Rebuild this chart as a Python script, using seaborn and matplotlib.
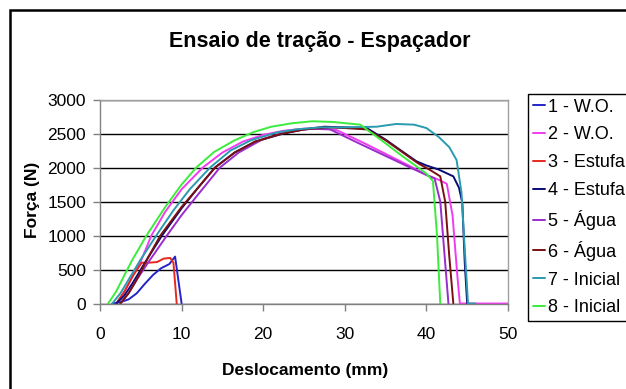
import matplotlib
matplotlib.use("Agg")
import matplotlib.pyplot as plt
from matplotlib.patches import Rectangle
import seaborn as sns
import pandas as pd

# curvas força x deslocamento
labels = ['1 - W.O.', '2 - W.O.', '3 - Estufa', '4 - Estufa',
          '5 - Água', '6 - Água', '7 - Inicial', '8 - Inicial']
colors = ['#2424c8', '#f03cf0', '#e8281e', '#0a0a78',
          '#9a2ccc', '#7a1010', '#2a9aae', '#3cec3c']

x1 = [1.5, 2.5, 3.5, 4.5, 5.5, 6.5, 7.5, 8.5, 9.2, 10.0]
y1 = [0, 20, 60, 150, 290, 420, 520, 580, 690, 0]

x2 = [2.0, 3.0, 4.0, 5.0, 6.3, 8.0, 10.0, 12.6, 15.0, 17.5, 20.0, 22.5, 25.0, 27.0,
      29.0, 32.0, 35.0, 38.0, 40.2, 41.5, 42.5, 43.2, 43.8, 44.1, 50.0]
y2 = [0, 170, 400, 620, 1000, 1350, 1680, 2000, 2220, 2380, 2480, 2540, 2570, 2580,
      2550, 2380, 2200, 2020, 1880, 1820, 1760, 1300, 400, 0, 0]

x3 = [2.0, 3.0, 4.0, 5.1, 6.0, 7.0, 7.8, 8.6, 9.0, 9.4]
y3 = [0, 180, 400, 600, 600, 610, 660, 670, 600, 0]

x4 = [2.0, 3.0, 4.0, 5.5, 7.6, 10.0, 12.0, 14.1, 16.5, 19.0, 22.5, 25.0, 27.5, 30.0,
      32.7, 35.0, 37.0, 38.8, 40.0, 41.5, 43.3, 44.0, 44.4, 44.7, 45.0]
y4 = [0, 120, 300, 600, 1000, 1400, 1700, 2000, 2220, 2380, 2500, 2560, 2600, 2590,
      2580, 2410, 2240, 2090, 2030, 1970, 1870, 1700, 1480, 600, 0]

x5 = [2.5, 3.5, 4.5, 6.0, 8.2, 10.0, 12.0, 14.7, 17.0, 20.0, 23.0, 26.0, 28.2,
      32.0, 35.0, 38.0, 40.0, 41.0, 41.7, 42.3, 42.7]
y5 = [0, 150, 350, 620, 1000, 1300, 1600, 2000, 2220, 2420, 2530, 2570, 2560,
      2340, 2170, 2000, 1890, 1840, 1500, 600, 0]

x6 = [2.5, 3.5, 4.5, 6.0, 7.4, 10.0, 12.0, 14.1, 16.5, 19.0, 22.0, 25.0, 28.0,
      30.0, 32.7, 35.0, 37.0, 39.0, 40.5, 41.7, 42.3, 42.8, 43.3]
y6 = [0, 150, 350, 700, 1000, 1420, 1700, 2000, 2220, 2380, 2490, 2560, 2590,
      2580, 2560, 2400, 2230, 2060, 1960, 1870, 1500, 700, 0]

x7 = [1.5, 2.5, 3.5, 5.0, 6.9, 9.0, 11.0, 13.5, 16.0, 18.5, 21.5, 24.0, 27.0,
      30.0, 33.9, 36.3, 38.5, 40.0, 41.5, 42.8, 43.7, 44.3, 44.7, 45.1, 46.0]
y7 = [0, 150, 350, 650, 1000, 1370, 1680, 2000, 2250, 2400, 2510, 2560, 2590,
      2590, 2600, 2640, 2630, 2580, 2450, 2300, 2110, 1630, 800, 0, 0]

x8 = [1.0, 2.0, 3.0, 4.0, 5.7, 8.0, 10.0, 11.8, 14.0, 16.5, 18.8, 21.0, 23.5,
      26.0, 28.5, 31.9, 34.5, 36.8, 40.0, 40.8, 41.3, 41.7]
y8 = [0, 180, 420, 650, 1000, 1420, 1750, 2000, 2230, 2400, 2520, 2600, 2650,
      2680, 2670, 2630, 2400, 2190, 1910, 1800, 1000, 0]

xs = [x1, x2, x3, x4, x5, x6, x7, x8]
ys = [y1, y2, y3, y4, y5, y6, y7, y8]

frames = []
for lab, x, y in zip(labels, xs, ys):
    frames.append(pd.DataFrame({'Deslocamento': x, 'Forca': y, 'Serie': lab}))
df = pd.concat(frames, ignore_index=True)

sns.set_theme(style='white')
plt.rcParams['font.family'] = ['Liberation Sans', 'DejaVu Sans']
plt.rcParams['text.color'] = 'black'
plt.rcParams['axes.labelcolor'] = 'black'

fig = plt.figure(figsize=(6.26, 3.89), dpi=100)
ax = fig.add_axes([100 / 626, 1 - 303.5 / 389, 408 / 626, 204 / 389])

sns.lineplot(data=df, x='Deslocamento', y='Forca', hue='Serie', hue_order=labels,
             palette=dict(zip(labels, colors)), sort=False, estimator=None,
             units='Serie', linewidth=1.4, ax=ax, legend=False)

ax.set_xlim(0, 50)
ax.set_ylim(0, 3000)
ax.set_xticks(range(0, 51, 10))
ax.set_yticks(range(0, 3001, 500))
ax.grid(axis='y', color='black', linewidth=1.0)
ax.set_axisbelow(True)
for s in ['top', 'right']:
    ax.spines[s].set_color('#a0a0a0')
for s in ['left', 'bottom']:
    ax.spines[s].set_color('#808080')
for s in ax.spines.values():
    s.set_linewidth(1.0)
ax.tick_params(axis='both', which='major', direction='out', length=5, width=1,
               color='#808080', labelsize=12.5, labelcolor='black')
ax.tick_params(axis='x', pad=12, bottom=True)
ax.tick_params(axis='y', pad=5, left=True)

ax.set_xlabel('Deslocamento (mm)', fontsize=12.5, fontweight='bold')
ax.set_ylabel('Força (N)', fontsize=12.5, fontweight='bold')
ax.xaxis.label.set_va('center')
ax.yaxis.label.set_va('center')
ax.xaxis.set_label_coords((305 - 100) / 408, (303.5 - 370) / 204)
ax.yaxis.set_label_coords((33 - 100) / 408, (303.5 - 200) / 204)

fig.text(320 / 626, 1 - 41 / 389, 'Ensaio de tração - Espaçador', ha='center',
         va='center', fontsize=15.5, fontweight='bold')

handles = [plt.Line2D([], [], color=c, linewidth=1.4) for c in colors]
leg = fig.legend(handles, labels, loc='upper left',
                 bbox_to_anchor=(528 / 626, 1 - 94 / 389), fontsize=13,
                 frameon=True, fancybox=False, framealpha=1, edgecolor='black',
                 handlelength=0.7, handletextpad=0.15, borderpad=0.25,
                 borderaxespad=0, labelspacing=0.6)
leg.get_frame().set_linewidth(1.0)

fig.patches.append(Rectangle((9.7 / 626, -0.1), 2, (389 - 10.5) / 389 + 0.1,
                             transform=fig.transFigure, fill=False,
                             linewidth=1.8, edgecolor='black'))

fig.savefig('out.png', dpi=100)
